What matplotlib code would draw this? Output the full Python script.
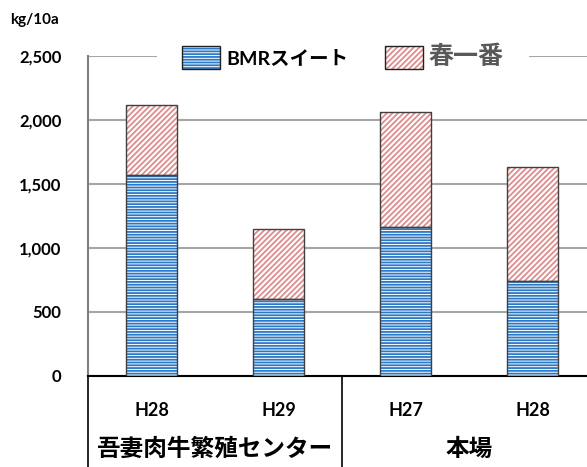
import matplotlib.pyplot as plt
import matplotlib.transforms as mtransforms
from matplotlib.patches import Patch
from matplotlib.legend_handler import HandlerTuple

plt.rcParams['font.family'] = ['Lato', 'Noto Sans CJK JP', 'DejaVu Sans']
plt.rcParams['hatch.linewidth'] = 1.3

# データ
years = ['H28', 'H29', 'H27', 'H28']
groups = ['吾妻肉牛繁殖センター', '本場']
group_sizes = [2, 2]
bmr = [1570, 600, 1165, 740]
haru = [547, 545, 898, 895]
series_names = ['BMRスイート', '春一番']

blue = '#2a78c6'
red = '#df8c8c'
edge = '#404040'

fig = plt.figure(figsize=(5.87, 4.67), dpi=100)
ax = fig.add_axes([88/587, (467-376)/467, (596-88)/587, (376-56)/467])

x = list(range(len(years)))
w = 0.4
# 模様（ハッチ）部分
ax.bar(x, bmr, w, color='white', edgecolor=blue, hatch='------', linewidth=0, zorder=3)
ax.bar(x, haru, w, bottom=bmr, color='white', edgecolor=red, hatch='//////', linewidth=0, zorder=3)
# 枠線
ax.bar(x, bmr, w, fill=False, edgecolor=edge, linewidth=1.0, zorder=4)
ax.bar(x, haru, w, bottom=bmr, fill=False, edgecolor=edge, linewidth=1.0, zorder=4)

ax.set_xlim(-0.5, len(years) - 0.5)
ax.set_ylim(0, 2500)
ax.set_yticks(range(0, 2501, 500))
ax.yaxis.set_major_formatter(plt.FuncFormatter(lambda v, p: format(int(v), ',')))
ax.tick_params(axis='y', length=0, pad=19, labelsize=12)
for t in ax.get_yticklabels():
    t.set_fontweight('bold')
ax.set_xticks([])
ax.grid(axis='y', color='#a6a6a6', linewidth=1.5, zorder=0)
for s in ['top', 'right']:
    ax.spines[s].set_visible(False)
ax.spines['left'].set_color('#808080')
ax.spines['left'].set_linewidth(1.5)
ax.spines['bottom'].set_color('black')
ax.spines['bottom'].set_linewidth(1.5)

# 下の表（年・場所）
trans = mtransforms.blended_transform_factory(ax.transData, ax.transAxes)
depth = -95/320
ax.plot([-0.5, -0.5], [0, depth], color='black', lw=1.2, transform=trans, clip_on=False)
start = 0
for g, n in zip(groups, group_sizes):
    end = start + n
    ax.plot([end - 0.5, end - 0.5], [0, depth], color='black', lw=1.2, transform=trans, clip_on=False)
    ax.text((start + end - 1) / 2, -72/320, g, transform=trans, ha='center', va='center',
            fontsize=17, fontweight='bold')
    start = end
for xi, yr in zip(x, years):
    ax.text(xi, -34/320, yr, transform=trans, ha='center', va='center', fontsize=13, fontweight='bold')

fig.text(10/587, 1 - 20/467, 'kg/10a', ha='left', va='center', fontsize=11, fontweight='bold')

handles = [(Patch(facecolor='white', edgecolor=blue, hatch='------', linewidth=0),
            Patch(fill=False, edgecolor='#222222', linewidth=1.0)),
           (Patch(facecolor='white', edgecolor=red, hatch='//////', linewidth=0),
            Patch(fill=False, edgecolor='#222222', linewidth=1.0))]
leg = ax.legend(handles, series_names, loc='center', bbox_to_anchor=(343/587, 1 - 57/467),
                bbox_transform=fig.transFigure, ncol=2, frameon=True, fancybox=False,
                edgecolor='none', framealpha=1, handlelength=1.95,
                handleheight=1.45, columnspacing=1.9, handletextpad=0.3, borderpad=1.3,
                handler_map={tuple: HandlerTuple(ndivide=1, pad=0)},
                prop={'weight': 'bold', 'size': 14})
leg.set_zorder(6)
leg.get_texts()[1].set_color('#595959')
leg.get_texts()[1].set_fontsize(18)

fig.savefig('out.png', dpi=100)
